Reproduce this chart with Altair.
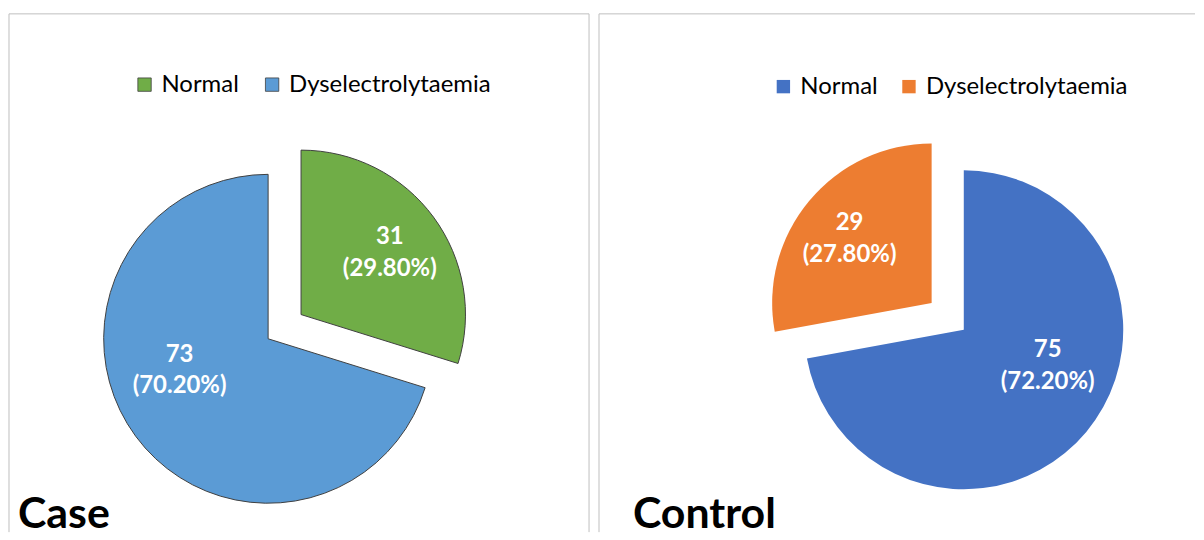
import altair as alt
import pandas as pd

# ---- data ----
categories = ["Normal", "Dyselectrolytaemia"]
case_values = [31, 73]
case_pcts = [29.80, 70.20]
control_values = [75, 29]
control_pcts = [72.20, 27.80]

case_colors = ["#70AD47", "#5B9BD5"]
control_colors = ["#4472C4", "#ED7D31"]

FONT = "Lato"
PANEL_W1, PANEL_W2, PANEL_H = 582, 598, 520


def panel(values, pcts, colors, exploded, title, title_x, width, cx, cy, r,
          explode, legend_x, legend_y, col_pad, stroke, right_border):
    df = pd.DataFrame({
        "idx": list(range(len(categories))),
        "category": categories,
        "value": values,
        "pct": pcts,
    })
    ex_idx = categories.index(exploded)
    base = alt.Chart(df).transform_joinaggregate(
        total="sum(value)"
    ).transform_window(
        cum="sum(value)", sort=[alt.SortField("idx")], frame=[None, 0]
    ).transform_calculate(
        t1="2*PI*datum.cum/datum.total",
        t0="2*PI*(datum.cum-datum.value)/datum.total",
    ).transform_calculate(
        mid="(datum.t0+datum.t1)/2",
        isx=f"datum.category === '{exploded}'",
    ).transform_calculate(
        e=f"datum.isx ? {explode} : 0",
        la=f"datum.isx ? datum.mid : datum.mid + (datum.idx > {ex_idx} ? 0.3 : -0.3)",
        lr=f"datum.isx ? {0.67*r} : {0.57*r}",
    ).transform_calculate(
        cx=f"{cx} + datum.e*sin(datum.mid)",
        cy=f"{cy} - datum.e*cos(datum.mid)",
        label="datum.value + '\\n(' + format(datum.pct, '.2f') + '%)'",
    ).transform_calculate(
        lx="datum.cx + datum.lr*sin(datum.la)",
        ly="datum.cy - datum.lr*cos(datum.la) - (datum.isx ? 0 : 3)",
    )

    legend_kw = dict(
        orient="none", legendX=legend_x, legendY=legend_y,
        direction="horizontal", title=None, symbolType="square",
        symbolSize=180, labelFont=FONT, labelFontSize=24, labelLimit=0,
        labelColor="#000000", labelOffset=5, columnPadding=col_pad,
    )
    if stroke:
        legend_kw.update(symbolStrokeColor=stroke, symbolStrokeWidth=0.8)
    else:
        legend_kw.update(symbolStrokeWidth=0)

    arcs = base.mark_arc(
        radius=r, stroke=stroke if stroke else "white",
        strokeWidth=1 if stroke else 0
    ).encode(
        x=alt.X("cx:Q", scale=None, axis=None),
        y=alt.Y("cy:Q", scale=None, axis=None),
        theta=alt.Theta("t0:Q", scale=None),
        theta2="t1:Q",
        color=alt.Color(
            "category:N",
            scale=alt.Scale(domain=categories, range=colors),
            sort=categories,
            legend=alt.Legend(**legend_kw),
        ),
    )

    labels = base.mark_text(
        color="white", font=FONT, fontWeight="bold", fontSize=24,
        lineBreak="\n", lineHeight=32, align="center", baseline="middle",
        dy=-12
    ).encode(
        x=alt.X("lx:Q", scale=None, axis=None),
        y=alt.Y("ly:Q", scale=None, axis=None),
        text="label:N",
    )

    ttl = alt.Chart(pd.DataFrame({"t": [title]})).mark_text(
        font=FONT, fontWeight="bold", fontSize=43, color="#000000",
        align="left", baseline="alphabetic"
    ).encode(x=alt.value(title_x), y=alt.value(516), text="t:N")

    border_df = pd.DataFrame({"k": [0]})
    left = alt.Chart(border_df).mark_rule(color="#BFBFBF", strokeWidth=1).encode(
        x=alt.value(0), y=alt.value(0), y2=alt.value(PANEL_H))
    top = alt.Chart(border_df).mark_rule(color="#BFBFBF", strokeWidth=1).encode(
        x=alt.value(0), x2=alt.value(width), y=alt.value(0))
    layers = [left, top]
    if right_border:
        layers.append(alt.Chart(border_df).mark_rule(color="#BFBFBF", strokeWidth=1).encode(
            x=alt.value(width), y=alt.value(0), y2=alt.value(PANEL_H)))
    return alt.layer(*layers, arcs, labels, ttl).properties(width=width, height=PANEL_H)


case_chart = panel(case_values, case_pcts, case_colors, "Normal", "Case", 9,
                   PANEL_W1, 260, 326, 165, 41, 124, 59, 21, "#404040", True)
control_chart = panel(control_values, control_pcts, control_colors,
                      "Dyselectrolytaemia", "Control", 34,
                      PANEL_W2, 366, 317, 160, 42, 173, 61, 19, None, False)

chart = alt.hconcat(case_chart, control_chart, spacing=8).resolve_scale(
    color="independent"
).properties(
    padding={"left": 0, "top": 4, "right": 0, "bottom": 0},
    background="white",
).configure_view(stroke=None)

chart.save("out.html", embed_options={"renderer": "svg", "actions": False})
